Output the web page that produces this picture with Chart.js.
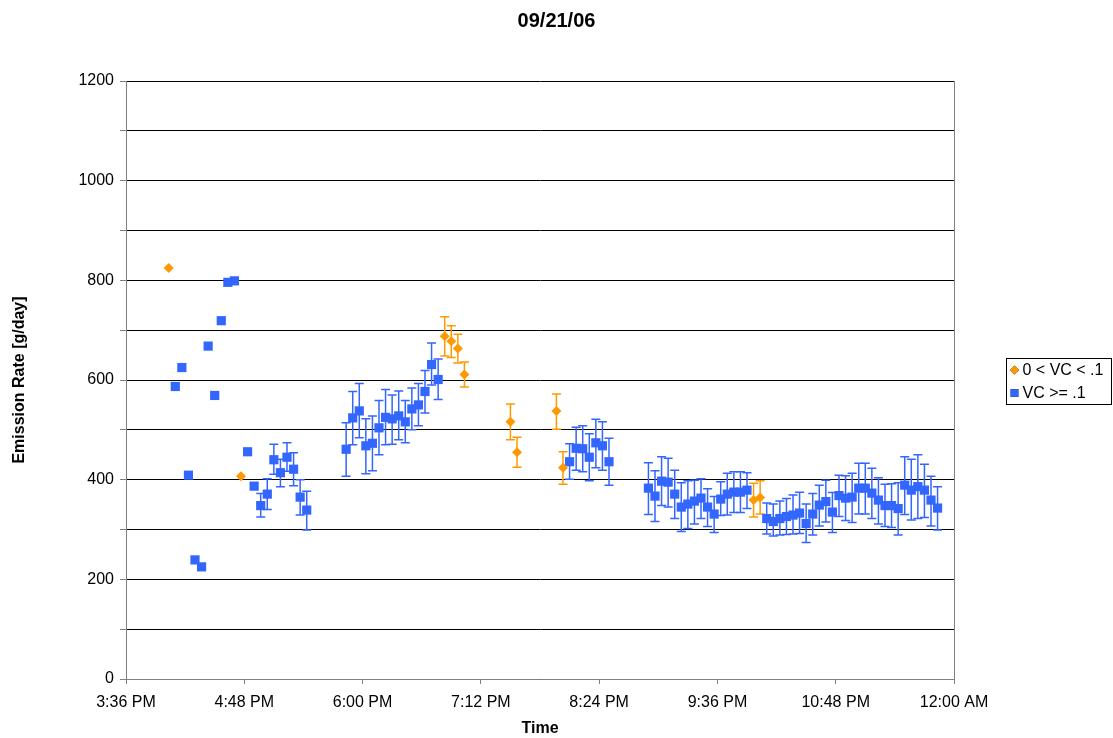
<!DOCTYPE html>
<html>
<head>
<meta charset="utf-8">
<title>09/21/06</title>
<script src="https://cdn.jsdelivr.net/npm/chart.js@4/dist/chart.umd.min.js"></script>
<style>
    body { margin: 0; background: #fff; }
    canvas { display: block; }
</style>
</head>
<body>
<canvas id="emissionChart" width="1113" height="738"></canvas>
<script>
// Time values are minutes after midnight (936 = 3:36 PM, 1440 = 12:00 AM)
const xTickStart = 936;
const xTickEnd = 1440;
const xTickStep = 72;
const yTickLabels = [0, 200, 400, 600, 800, 1000, 1200];

// 0 < VC < .1
const lowVcTimes  = [962, 1006, 1130, 1134, 1138, 1142, 1170, 1174, 1198, 1202, 1318, 1322];
const lowVcValues = [825, 407, 688, 678, 663, 611, 516, 455, 538, 424, 359, 364];
const lowVcLow    = [null, null, 648, 645, 634, 586, 480, 425, 501, 391, 325, 331];
const lowVcHigh   = [null, null, 727, 709, 692, 636, 552, 485, 572, 456, 393, 398];

// VC >= .1
const highVcTimes = [
    966, 970, 974, 978, 982, 986, 990, 994, 998, 1002, 1010, 1014,
    1018, 1022, 1026, 1030, 1034, 1038, 1042, 1046,
    1070, 1074, 1078, 1082, 1086, 1090, 1094, 1098, 1102, 1106, 1110, 1114, 1118, 1122, 1126,
    1206, 1210, 1214, 1218, 1222, 1226, 1230,
    1254, 1258, 1262, 1266, 1270, 1274, 1278, 1282, 1286, 1290, 1294, 1298, 1302, 1306, 1310, 1314,
    1326, 1330, 1334, 1338, 1342, 1346, 1350, 1354, 1358, 1362, 1366, 1370, 1374, 1378,
    1382, 1386, 1390, 1394, 1398, 1402, 1406, 1410, 1414, 1418, 1422, 1426, 1430
];
const highVcValues = [
    587, 625, 409, 239, 225, 668, 569, 719, 796, 799, 456, 387,
    348, 371, 440, 414, 445, 421, 365, 339,
    461, 524, 538, 468, 473, 504, 525, 522, 528, 516, 542, 550, 577, 631, 601,
    436, 463, 462, 445, 474, 468, 436,
    383, 367, 397, 395, 371, 345, 351, 357, 363, 345, 331, 361, 371, 375, 375, 379,
    322, 316, 322, 326, 329, 333, 312, 331, 349, 356, 335, 368, 363, 365,
    383, 383, 373, 359, 348, 348, 342, 389, 379, 386, 379, 359, 343
];
const highVcLow = [
    null, null, null, null, null, null, null, null, null, null, null, null,
    325, 340, 411, 386, 417, 388, 329, 299,
    407, 470, 484, 412, 418, 450, 470, 471, 480, 474, 500, 508, 534, 590, 561,
    401, 419, 416, 398, 424, 419, 389,
    330, 316, 348, 345, 322, 296, 302, 311, 322, 306, 294, 328, 329, 334, 334, 342,
    291, 287, 289, 290, 291, 292, 274, 289, 307, 315, 294, 326, 318, 314,
    331, 331, 322, 311, 306, 304, 289, 330, 319, 322, 324, 307, 299
];
const highVcHigh = [
    null, null, null, null, null, null, null, null, null, null, null, null,
    372, 402, 471, 441, 474, 454, 400, 377,
    514, 577, 593, 522, 528, 559, 581, 570, 578, 559, 584, 593, 619, 674, 642,
    472, 505, 508, 492, 521, 516, 483,
    434, 418, 446, 443, 419, 394, 398, 399, 402, 382, 366, 396, 413, 416, 416, 414,
    353, 351, 357, 362, 369, 375, 351, 372, 389, 399, 374, 409, 408, 413,
    433, 433, 423, 404, 391, 392, 394, 446, 441, 450, 431, 407, 386
];

const FONT = "'Liberation Sans', Arial, sans-serif";
const ORANGE = '#FF9900';
const BLUE = '#3366FF';

function formatTime(minutes) {
    const m = minutes % 1440;
    let h = Math.floor(m / 60);
    const mm = m % 60;
    const suffix = h >= 12 ? 'PM' : 'AM';
    h = h % 12;
    if (h === 0) h = 12;
    return h + ':' + String(mm).padStart(2, '0') + ' ' + suffix;
}

function toPoints(times, values) {
    return times.map((t, i) => ({ x: t, y: values[i] }));
}

// Vertical error bars with caps, drawn through the chart's scales
const errorBarPlugin = {
    id: 'errorBars',
    beforeDatasetsDraw(chart) {
        const ctx = chart.ctx;
        const xScale = chart.scales.x;
        const yScale = chart.scales.y;
        chart.data.datasets.forEach(ds => {
            if (!ds.errLow) return;
            ctx.save();
            ctx.strokeStyle = ds.borderColor;
            ctx.lineWidth = 1.5;
            ds.data.forEach((pt, i) => {
                const lo = ds.errLow[i];
                const hi = ds.errHigh[i];
                if (lo == null || hi == null) return;
                const px = xScale.getPixelForValue(pt.x);
                const pLo = yScale.getPixelForValue(lo);
                const pHi = yScale.getPixelForValue(hi);
                ctx.beginPath();
                ctx.moveTo(px, pLo);
                ctx.lineTo(px, pHi);
                ctx.moveTo(px - 4.5, pLo);
                ctx.lineTo(px + 4.5, pLo);
                ctx.moveTo(px - 4.5, pHi);
                ctx.lineTo(px + 4.5, pHi);
                ctx.stroke();
            });
            ctx.restore();
        });
    }
};

// Grey frame round the plot area (right edge)
const plotFramePlugin = {
    id: 'plotFrame',
    beforeDatasetsDraw(chart) {
        const { ctx, chartArea } = chart;
        ctx.save();
        ctx.strokeStyle = '#808080';
        ctx.lineWidth = 1;
        ctx.beginPath();
        ctx.moveTo(Math.round(chartArea.right) + 0.5, chartArea.top);
        ctx.lineTo(Math.round(chartArea.right) + 0.5, chartArea.bottom);
        ctx.stroke();
        ctx.restore();
    }
};

// Excel style boxed legend on the right
const boxLegendPlugin = {
    id: 'boxLegend',
    afterDraw(chart) {
        const ctx = chart.ctx;
        const left = 1006.5, top = 358.5, width = 105, height = 46;
        ctx.save();
        ctx.strokeStyle = '#000';
        ctx.lineWidth = 1;
        ctx.strokeRect(left, top, width, height);
        ctx.font = '16px ' + FONT;
        ctx.fillStyle = '#000';
        ctx.textBaseline = 'middle';
        chart.data.datasets.forEach((ds, i) => {
            const y = top + 11.5 + i * 23;
            Chart.helpers.drawPoint(ctx, {
                pointStyle: ds.pointStyle,
                radius: ds.pointStyle === 'rect' ? 5.5 : 4.5,
                borderWidth: 0
            }, left + 8, y);
            ctx.fillStyle = ds.backgroundColor;
            ctx.fill();
            ctx.fillStyle = '#000';
            ctx.fillText(ds.label, left + 16, y + 1);
        });
        ctx.restore();
    }
};

const ctx = document.getElementById('emissionChart').getContext('2d');
const emissionChart = new Chart(ctx, {
    type: 'scatter',
    data: {
        datasets: [
            {
                label: '0 < VC < .1',
                data: toPoints(lowVcTimes, lowVcValues),
                errLow: lowVcLow,
                errHigh: lowVcHigh,
                pointStyle: 'rectRot',
                pointRadius: 5,
                backgroundColor: ORANGE,
                borderColor: ORANGE,
                borderWidth: 0
            },
            {
                label: 'VC >= .1',
                data: toPoints(highVcTimes, highVcValues),
                errLow: highVcLow,
                errHigh: highVcHigh,
                pointStyle: 'rect',
                pointRadius: 6.5,
                backgroundColor: BLUE,
                borderColor: BLUE,
                borderWidth: 0
            }
        ]
    },
    options: {
        responsive: false,
        animation: false,
        layout: { padding: 0 },
        plugins: {
            legend: { display: false },
            tooltip: { enabled: false },
            title: {
                display: true,
                text: '09/21/06',
                color: '#000',
                font: { family: FONT, size: 20, weight: 'bold' },
                padding: { top: 9, bottom: 48 }
            }
        },
        scales: {
            x: {
                type: 'linear',
                min: xTickStart,
                max: xTickEnd,
                afterFit(scale) { scale.height = 59; },
                ticks: {
                    stepSize: xTickStep,
                    color: '#000',
                    padding: 9,
                    maxRotation: 0,
                    font: { family: FONT, size: 16 },
                    callback: value => formatTime(value)
                },
                grid: {
                    drawOnChartArea: false,
                    drawTicks: true,
                    tickLength: 5,
                    tickColor: '#808080'
                },
                border: { color: '#808080', width: 1 },
                title: {
                    display: true,
                    text: 'Time',
                    color: '#000',
                    font: { family: FONT, size: 16, weight: 'bold' },
                    padding: { top: 0, bottom: 0 }
                }
            },
            y: {
                min: 0,
                max: 1200,
                afterFit(scale) { scale.width = 126; },
                ticks: {
                    stepSize: 100,
                    color: '#000',
                    padding: 6,
                    font: { family: FONT, size: 16 },
                    callback: value => yTickLabels.includes(value) ? value : ''
                },
                grid: {
                    color: '#000',
                    lineWidth: 1,
                    drawTicks: true,
                    tickLength: 6,
                    tickColor: '#808080'
                },
                border: { color: '#808080', width: 1 },
                title: {
                    display: true,
                    text: 'Emission Rate [g/day]',
                    color: '#000',
                    font: { family: FONT, size: 16, weight: 'bold' },
                    padding: { top: 10, bottom: 0 }
                }
            },
            // empty right-hand box that reserves room for the legend
            legendSpace: {
                position: 'right',
                min: 0,
                max: 1200,
                afterFit(scale) { scale.width = 159; },
                ticks: { display: false },
                grid: { drawOnChartArea: false, drawTicks: false },
                border: { display: false }
            }
        }
    },
    plugins: [errorBarPlugin, plotFramePlugin, boxLegendPlugin]
});
</script>
</body>
</html>
